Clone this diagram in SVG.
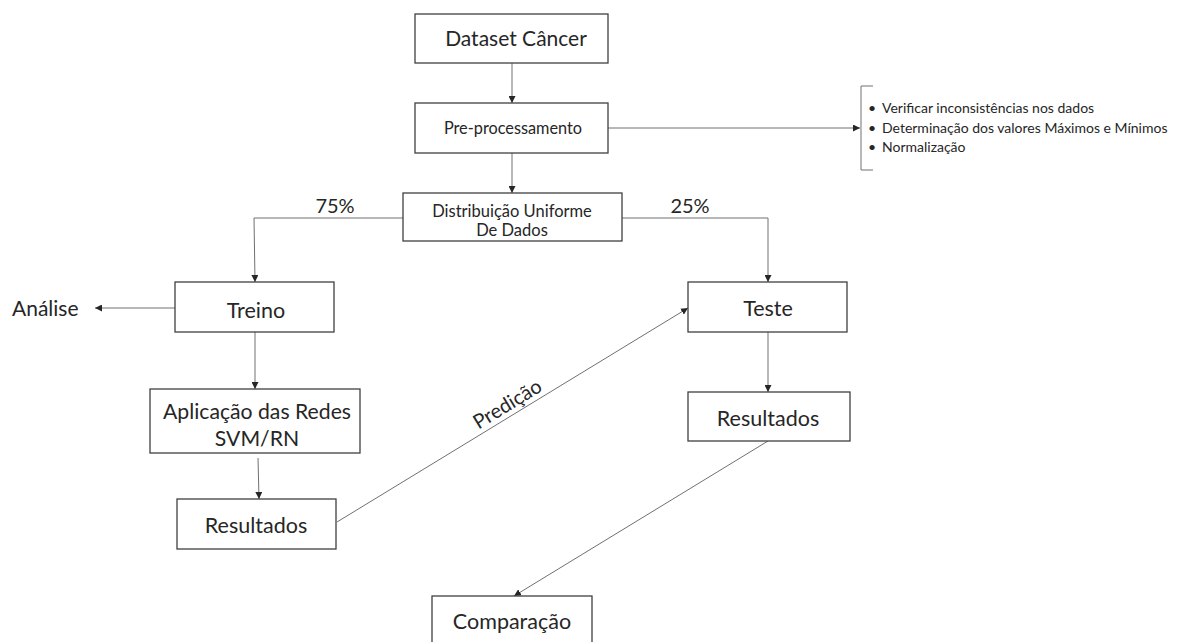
<svg xmlns="http://www.w3.org/2000/svg" width="1188" height="642" viewBox="0 0 1188 642">
<style>
.box{fill:#fff;stroke:#404040;stroke-width:1.3}
.ln{fill:none;stroke:#707070;stroke-width:1}
.t{font-family:Lato,"Open Sans",sans-serif;fill:#262626;text-anchor:middle}
.s{font-family:Lato,"Open Sans",sans-serif;fill:#262626}
</style>
<defs>
<marker id="ah" viewBox="0 0 10 10" refX="10" refY="5" markerWidth="7" markerHeight="7" markerUnits="userSpaceOnUse" orient="auto">
<path d="M0,0 L10,5 L0,10 z" fill="#262626"/>
</marker>
</defs>
<rect width="1188" height="642" fill="#fff"/>
<g id="connectors">
<line class="ln" x1="512" y1="63" x2="512" y2="103" marker-end="url(#ah)"/>
<line class="ln" x1="512" y1="153" x2="512" y2="193" marker-end="url(#ah)"/>
<line class="ln" x1="608" y1="128" x2="860" y2="128" marker-end="url(#ah)"/>
<polyline class="ln" points="403,218 254,218 255,282" marker-end="url(#ah)"/>
<polyline class="ln" points="622,218 768,218 768,282" marker-end="url(#ah)"/>
<line class="ln" x1="175" y1="308" x2="95" y2="308" marker-end="url(#ah)"/>
<line class="ln" x1="255" y1="332" x2="255" y2="389" marker-end="url(#ah)"/>
<line class="ln" x1="258" y1="458" x2="259" y2="499" marker-end="url(#ah)"/>
<line class="ln" x1="768" y1="332" x2="768" y2="392" marker-end="url(#ah)"/>
<line class="ln" x1="337" y1="522" x2="688" y2="308" marker-end="url(#ah)"/>
<line class="ln" x1="768" y1="441" x2="514" y2="596" marker-end="url(#ah)"/>
<text class="t" x="335" y="213" font-size="20">75%</text>
<text class="t" x="690" y="213" font-size="20">25%</text>
<text class="t" font-size="20" transform="translate(511,410) rotate(-31.4)">Predição</text>
</g>
<g id="dataset">
<rect class="box" x="415" y="14" width="193" height="49"/>
<text class="t" x="516" y="46" font-size="21">Dataset Câncer</text>
</g>
<g id="preprocessamento">
<rect class="box" x="415" y="103" width="193" height="50"/>
<text class="t" x="513" y="134" font-size="16.3">Pre-processamento</text>
</g>
<g id="bracket">
<polyline class="ln" points="873,86 861,86 861,170 873,170"/>
<text class="s" font-size="14"><tspan x="868" y="113">•</tspan><tspan x="882" y="113">Verificar inconsistências nos dados</tspan></text>
<text class="s" font-size="14"><tspan x="868" y="133">•</tspan><tspan x="882" y="133">Determinação dos valores Máximos e Mínimos</tspan></text>
<text class="s" font-size="14"><tspan x="868" y="152">•</tspan><tspan x="882" y="152">Normalização</tspan></text>
</g>
<g id="distribuicao">
<rect class="box" x="403" y="193" width="219" height="48"/>
<text class="t" x="512" y="217" font-size="16.5">Distribuição Uniforme</text>
<text class="t" x="512" y="236" font-size="16.5">De Dados</text>
</g>
<g id="treino">
<rect class="box" x="175" y="282" width="159" height="50"/>
<text class="t" x="256" y="318" font-size="21.5">Treino</text>
</g>
<g id="analise">
<text class="s" x="12" y="316" font-size="21">Análise</text>
</g>
<g id="teste">
<rect class="box" x="688" y="282" width="159" height="50"/>
<text class="t" x="768" y="316" font-size="21.5">Teste</text>
</g>
<g id="aplicacao">
<rect class="box" x="150" y="389" width="210" height="64"/>
<text class="t" x="257" y="419" font-size="21.2">Aplicação das Redes</text>
<text class="t" x="257" y="446" font-size="21.2">SVM/RN</text>
</g>
<g id="resultados1">
<rect class="box" x="177" y="499" width="159" height="50"/>
<text class="t" x="256" y="533" font-size="21.5">Resultados</text>
</g>
<g id="resultados2">
<rect class="box" x="688" y="392" width="162" height="49"/>
<text class="t" x="768" y="426" font-size="21.5">Resultados</text>
</g>
<g id="comparacao">
<rect class="box" x="432" y="596" width="160" height="60"/>
<text class="t" x="512" y="629" font-size="21.5">Comparação</text>
</g>
</svg>
